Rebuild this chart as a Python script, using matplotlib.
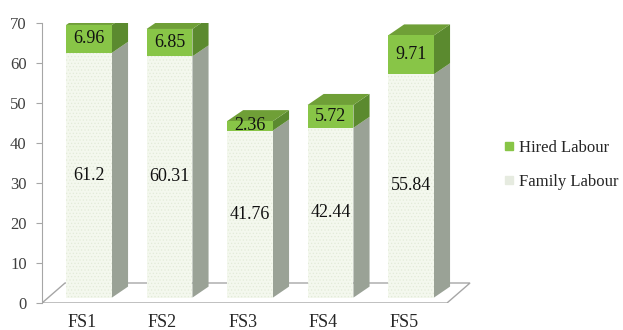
import matplotlib.pyplot as plt
from matplotlib.patches import Polygon
from matplotlib.lines import Line2D

plt.rcParams['font.family'] = ['Liberation Serif', 'DejaVu Serif']

farms = ['FS1', 'FS2', 'FS3', 'FS4', 'FS5']
family_labour = [61.2, 60.31, 41.76, 42.44, 55.84]
hired_labour = [6.96, 6.85, 2.36, 5.72, 9.71]
yticks = [0, 10, 20, 30, 40, 50, 60, 70]

# pseudo-3d look
bar_w = 0.57
depth_x, depth_y = 0.2, 2.75      # bar depth (category units, value units)
base = 1.35                       # front face sits a bit forward of the floor
floor_dx, floor_dy = 0.286, 5.0

fam_front, fam_side, fam_dots = '#f4f8ee', '#9aa296', '#e3ebd8'
hir_front, hir_top, hir_side = '#88c547', '#6f9f37', '#5b8a2f'
grid_col = '#a6a6a6'

fig = plt.figure(figsize=(6.23, 3.30), dpi=100)
ax = fig.add_axes([42 / 623, 27 / 330, 438 / 623, 280 / 330])
ax.set_xlim(-0.584, -0.584 + 438 / 80.5)
ax.set_ylim(0, 70)

x = list(range(len(farms)))

# floor
fl, fr = -0.584, 4.447
floor = Polygon([(fl, 0), (fr, 0), (fr + floor_dx, floor_dy), (fl + floor_dx, floor_dy)],
                closed=True, facecolor='white', edgecolor=grid_col, lw=1.0, zorder=1)
ax.add_patch(floor)

plt.rcParams['hatch.linewidth'] = 0.5
for i, xi in enumerate(x):
    f, h = family_labour[i], hired_labour[i]
    left, right = xi - bar_w / 2, xi + bar_w / 2
    y0, y1, y2 = base, base + f, base + f + h

    # side faces
    ax.add_patch(Polygon([(right, y0), (right + depth_x, y0 + depth_y),
                          (right + depth_x, y1 + depth_y), (right, y1)],
                         closed=True, facecolor=fam_side, edgecolor='none', zorder=2))
    ax.add_patch(Polygon([(right, y1), (right + depth_x, y1 + depth_y),
                          (right + depth_x, y2 + depth_y), (right, y2)],
                         closed=True, facecolor=hir_side, edgecolor='none', zorder=2))
    # top face
    ax.add_patch(Polygon([(left, y2), (right, y2), (right + depth_x, y2 + depth_y),
                          (left + depth_x, y2 + depth_y)],
                         closed=True, facecolor=hir_top, edgecolor='none', zorder=2))

# front faces
ax.bar(x, family_labour, bottom=base, width=bar_w, facecolor=fam_front,
       edgecolor=fam_dots, hatch='.....', linewidth=0, zorder=3)
ax.bar(x, hired_labour, bottom=[base + f for f in family_labour], width=bar_w,
       facecolor=hir_front, edgecolor='none', linewidth=0, zorder=3)

for i, xi in enumerate(x):
    f, h = family_labour[i], hired_labour[i]
    ax.text(xi, base + f / 2, f'{f:g}', ha='center', va='center',
            fontsize=13, color='#111111', zorder=5)
    ax.text(xi, base + f + h / 2, f'{h:g}', ha='center', va='center',
            fontsize=13, color='#111111', zorder=5)

# axes styling
for s in ['top', 'right', 'bottom']:
    ax.spines[s].set_visible(False)
ax.spines['left'].set_color(grid_col)
ax.spines['left'].set_bounds(0, 70)
ax.set_yticks(yticks)
ax.tick_params(axis='y', colors=grid_col, length=4, pad=7, labelsize=12,
               labelcolor='#404040')
ax.set_xticks([xi - 0.09 for xi in x])
ax.set_xticklabels(farms, fontsize=13, color='#262626')
ax.tick_params(axis='x', length=0, pad=8)

handles = [Line2D([], [], marker='s', ls='none', markersize=6, color=hir_front),
           Line2D([], [], marker='s', ls='none', markersize=6, color='#e6ebe0')]
fig.legend(handles, ['Hired Labour', 'Family Labour'], loc='upper left',
           bbox_to_anchor=(504 / 623, 1 - 140 / 330), frameon=False, fontsize=12,
           handlelength=0.6, handletextpad=0.3, labelspacing=1.05,
           borderpad=0, borderaxespad=0, labelcolor='#262626')

fig.savefig('out.png', dpi=100)
